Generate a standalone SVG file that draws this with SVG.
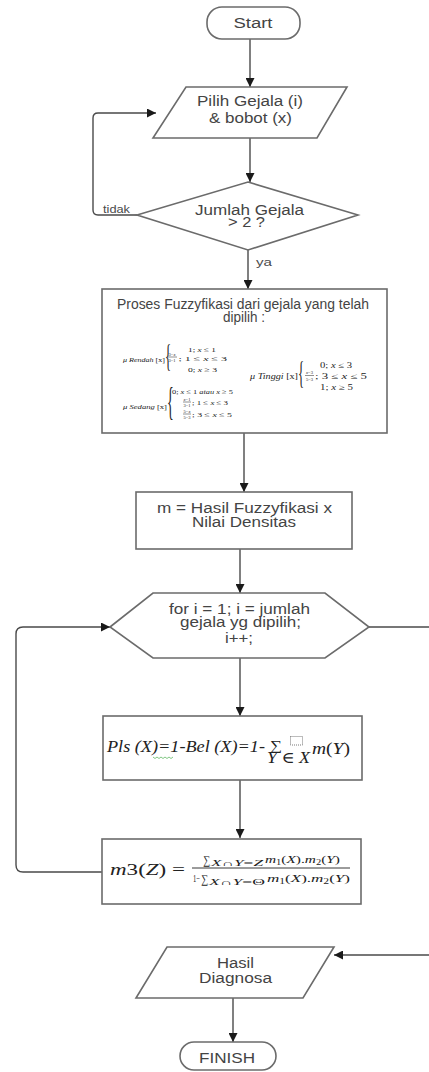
<svg xmlns="http://www.w3.org/2000/svg" width="429" height="1072" viewBox="0 0 429 1072">
<defs>
<marker id="arr" viewBox="0 0 10 10" refX="10" refY="5" markerWidth="9" markerHeight="9" markerUnits="userSpaceOnUse" orient="auto">
<path d="M0,0 L10,5 L0,10 Z" fill="#1a1a1a"/>
</marker>
<style>
.shape{fill:#fff;stroke:#6b6b6b;stroke-width:1.6}
.con{fill:none;stroke:#4a4a4a;stroke-width:1.4}
.t{font-family:"Liberation Sans",Arial,sans-serif;font-size:14px;fill:#444;text-anchor:middle}
.lbl{font-family:"Liberation Sans",Arial,sans-serif;font-size:11px;fill:#4a4a4a}
.m{font-family:"Liberation Serif","DejaVu Serif",serif;fill:#222}
.mi{font-family:"Liberation Serif","DejaVu Serif",serif;font-style:italic;fill:#222}
.fr{font-family:"Liberation Serif","DejaVu Serif",serif;font-size:4.5px;fill:#222;text-anchor:middle}
.bar{stroke:#222;stroke-width:0.5}
</style>
</defs>
<rect width="429" height="1072" fill="#fff"/>

<g id="connectors">
<path class="con" d="M250,39 V87" marker-end="url(#arr)"/>
<path class="con" d="M250,138 V182" marker-end="url(#arr)"/>
<path class="con" d="M137,215 H98 Q93,215 93,210 V118 Q93,113 98,113 H156" marker-end="url(#arr)"/>
<path class="con" d="M248,250 V289" marker-end="url(#arr)"/>
<path class="con" d="M244,433 V492" marker-end="url(#arr)"/>
<path class="con" d="M240,549 V593" marker-end="url(#arr)"/>
<path class="con" d="M240,658 V716" marker-end="url(#arr)"/>
<path class="con" d="M240,780 V838" marker-end="url(#arr)"/>
<path class="con" d="M102,872 H23 Q16,872 16,865 V634 Q16,627 23,627 H110" marker-end="url(#arr)"/>
<path class="con" d="M369,627 H429"/>
<path class="con" d="M429,955 H334" marker-end="url(#arr)"/>
<path class="con" d="M233,998 V1042" marker-end="url(#arr)"/>
<text class="lbl" x="103" y="213" textLength="27" lengthAdjust="spacingAndGlyphs">tidak</text>
<text class="lbl" x="256" y="266" font-size="12" textLength="16" lengthAdjust="spacingAndGlyphs">ya</text>
</g>

<g id="start">
<rect class="shape" x="207" y="7" width="93" height="32" rx="15"/>
<text class="t" x="253" y="28" textLength="39" lengthAdjust="spacingAndGlyphs">Start</text>
</g>

<g id="input">
<polygon class="shape" points="186,87 347,87 317,138 153,138"/>
<text class="t" x="250" y="106" textLength="106" lengthAdjust="spacingAndGlyphs">Pilih Gejala (i)</text>
<text class="t" x="250.5" y="123" textLength="83" lengthAdjust="spacingAndGlyphs">&amp; bobot (x)</text>
</g>

<g id="decision">
<polygon class="shape" points="248,182 358,215 248,250 137,215"/>
<text class="t" x="249.5" y="215" textLength="109" lengthAdjust="spacingAndGlyphs">Jumlah Gejala</text>
<text class="t" x="246.5" y="227" textLength="37" lengthAdjust="spacingAndGlyphs">&gt; 2 ?</text>
</g>

<g id="fuzzy">
<rect class="shape" x="102" y="289" width="285" height="144"/>
<text class="t" x="243" y="309" textLength="252" lengthAdjust="spacingAndGlyphs">Proses Fuzzyfikasi dari gejala yang telah</text>
<text class="t" x="244" y="322" textLength="42" lengthAdjust="spacingAndGlyphs">dipilih :</text>

<text class="mi" x="123" y="361.5" font-size="7" textLength="42" lengthAdjust="spacingAndGlyphs">μ Rendah <tspan font-style="normal">[x]</tspan></text>
<text class="m" font-size="32" transform="translate(165,367) scale(0.4,1)">{</text>
<text class="m" x="188" y="351.5" font-size="7" textLength="28" lengthAdjust="spacingAndGlyphs">1; <tspan font-style="italic">x</tspan> ≤ 1</text>
<text class="fr" x="172" y="355.5">3−<tspan font-style="italic">x</tspan></text>
<line class="bar" x1="167.5" y1="357" x2="177" y2="357"/>
<text class="fr" x="172" y="361.5">3−1</text>
<text class="m" x="178.5" y="360.5" font-size="7" textLength="48.5" lengthAdjust="spacingAndGlyphs">; 1 ≤ <tspan font-style="italic">x</tspan>  ≤ 3</text>
<text class="m" x="188" y="371.5" font-size="7" textLength="29" lengthAdjust="spacingAndGlyphs">0; <tspan font-style="italic">x</tspan>  ≥ 3</text>

<text class="mi" x="123" y="408.5" font-size="7" textLength="44" lengthAdjust="spacingAndGlyphs">μ Sedang <tspan font-style="normal">[x]</tspan></text>
<text class="m" font-size="40" transform="translate(167,415) scale(0.35,1)">{</text>
<text class="m" x="172" y="393.5" font-size="7" textLength="61" lengthAdjust="spacingAndGlyphs">0; <tspan font-style="italic">x</tspan> ≤ 1 <tspan font-style="italic">atau x</tspan> ≥ 5</text>
<text class="fr" x="187" y="400.5"><tspan font-style="italic">x</tspan>−1</text>
<line class="bar" x1="183" y1="402" x2="191" y2="402"/>
<text class="fr" x="187" y="406.5">3−1</text>
<text class="m" x="192" y="404.5" font-size="7" textLength="36" lengthAdjust="spacingAndGlyphs">; 1 ≤ <tspan font-style="italic">x</tspan>  ≤ 3</text>
<text class="fr" x="187" y="412.5">5−<tspan font-style="italic">x</tspan></text>
<line class="bar" x1="183" y1="414" x2="191" y2="414"/>
<text class="fr" x="187" y="418.5">5−3</text>
<text class="m" x="192" y="416.5" font-size="7" textLength="40" lengthAdjust="spacingAndGlyphs">; 3 ≤ <tspan font-style="italic">x</tspan>  ≤ 5</text>

<text class="mi" x="250" y="379" font-size="8" textLength="48" lengthAdjust="spacingAndGlyphs">μ Tinggi <tspan font-style="normal">[x]</tspan></text>
<text class="m" font-size="32" transform="translate(298,384) scale(0.4,1)">{</text>
<text class="m" x="320" y="367.5" font-size="8" textLength="32" lengthAdjust="spacingAndGlyphs">0; <tspan font-style="italic">x</tspan> ≤ 3</text>
<text class="fr" x="309.5" y="373.5" font-size="5"><tspan font-style="italic">x</tspan>−3</text>
<line class="bar" x1="305" y1="375.5" x2="314" y2="375.5"/>
<text class="fr" x="309.5" y="380.5" font-size="5">5−3</text>
<text class="m" x="315" y="379" font-size="8" textLength="52" lengthAdjust="spacingAndGlyphs">; 3 ≤ <tspan font-style="italic">x</tspan>  ≤ 5</text>
<text class="m" x="320" y="390" font-size="8" textLength="33" lengthAdjust="spacingAndGlyphs">1; <tspan font-style="italic">x</tspan>  ≥ 5</text>
</g>

<g id="mprocess">
<rect class="shape" x="136" y="492" width="216" height="57"/>
<text class="t" x="244.5" y="513" textLength="175" lengthAdjust="spacingAndGlyphs">m = Hasil Fuzzyfikasi x</text>
<text class="t" x="244" y="527" textLength="104" lengthAdjust="spacingAndGlyphs">Nilai Densitas</text>
</g>

<g id="loop">
<polygon class="shape" points="110,627 153,593 325,593 369,627 325,658 153,658"/>
<text class="t" x="239.5" y="614" textLength="141" lengthAdjust="spacingAndGlyphs">for i = 1; i = jumlah</text>
<text class="t" x="240.5" y="627" textLength="121" lengthAdjust="spacingAndGlyphs">gejala yg dipilih;</text>
<text class="t" x="239" y="643" textLength="28" lengthAdjust="spacingAndGlyphs">i++;</text>
</g>

<g id="pls">
<rect class="shape" x="103" y="716" width="259" height="64"/>
<text class="mi" x="107" y="752" font-size="16" textLength="158" lengthAdjust="spacingAndGlyphs">Pls (X)=1-Bel (X)=1-</text>
<polyline points="153,757 155,758.5 157,757 159,758.5 161,757 163,758.5 165,757 167,758.5 169,757 171,758.5 173,757" fill="none" stroke="#4caf50" stroke-width="0.7"/>
<text class="m" x="270" y="750" font-size="14" textLength="12" lengthAdjust="spacingAndGlyphs">∑</text>
<rect x="290.5" y="736.5" width="12" height="8.5" fill="none" stroke="#555" stroke-width="0.8" stroke-dasharray="1,1"/>
<text class="mi" x="267" y="763" font-size="16" textLength="43" lengthAdjust="spacingAndGlyphs">Y <tspan font-style="normal">∈</tspan> X</text>
<text class="mi" x="312" y="754" font-size="16" textLength="38" lengthAdjust="spacingAndGlyphs">m<tspan font-style="normal">(</tspan>Y<tspan font-style="normal">)</tspan></text>
</g>

<g id="m3">
<rect class="shape" x="102" y="839" width="259" height="65"/>
<text class="m" x="110" y="875" font-size="16" textLength="75" lengthAdjust="spacingAndGlyphs"><tspan font-style="italic">m</tspan>3(<tspan font-style="italic">Z</tspan>) =</text>
<text class="m" x="203" y="864" font-size="12" textLength="7" lengthAdjust="spacingAndGlyphs">∑</text>
<text class="mi" x="211" y="866" font-size="7.5" textLength="52" lengthAdjust="spacingAndGlyphs">X<tspan font-style="normal">∩</tspan>Y<tspan font-style="normal">=</tspan>Z</text>
<text class="mi" x="265" y="863" font-size="11" textLength="75" lengthAdjust="spacingAndGlyphs">m<tspan font-style="normal" font-size="7.5" dy="2">1</tspan><tspan font-style="normal" dy="-2">(</tspan>X<tspan font-style="normal">).</tspan>m<tspan font-style="normal" font-size="7.5" dy="2">2</tspan><tspan font-style="normal" dy="-2">(</tspan>Y<tspan font-style="normal">)</tspan></text>
<line x1="192" y1="868" x2="350" y2="868" stroke="#222" stroke-width="0.9"/>
<text class="m" x="193" y="882" font-size="10" textLength="7" lengthAdjust="spacingAndGlyphs">1−</text>
<text class="m" x="201" y="883" font-size="12" textLength="7" lengthAdjust="spacingAndGlyphs">∑</text>
<text class="mi" x="209" y="885" font-size="7.5" textLength="56" lengthAdjust="spacingAndGlyphs">X<tspan font-style="normal">∩</tspan>Y<tspan font-style="normal">=Θ</tspan></text>
<text class="mi" x="267" y="882" font-size="11" textLength="83" lengthAdjust="spacingAndGlyphs">m<tspan font-style="normal" font-size="7.5" dy="2">1</tspan><tspan font-style="normal" dy="-2">(</tspan>X<tspan font-style="normal">).</tspan>m<tspan font-style="normal" font-size="7.5" dy="2">2</tspan><tspan font-style="normal" dy="-2">(</tspan>Y<tspan font-style="normal">)</tspan></text>
</g>

<g id="output">
<polygon class="shape" points="167,947 334,947 303,998 136,998"/>
<text class="t" x="235.5" y="968" textLength="37" lengthAdjust="spacingAndGlyphs">Hasil</text>
<text class="t" x="235.5" y="983" textLength="73" lengthAdjust="spacingAndGlyphs">Diagnosa</text>
</g>

<g id="finish">
<rect class="shape" x="180" y="1042" width="96" height="28" rx="14"/>
<text class="t" x="227" y="1063" textLength="56" lengthAdjust="spacingAndGlyphs">FINISH</text>
</g>
</svg>
